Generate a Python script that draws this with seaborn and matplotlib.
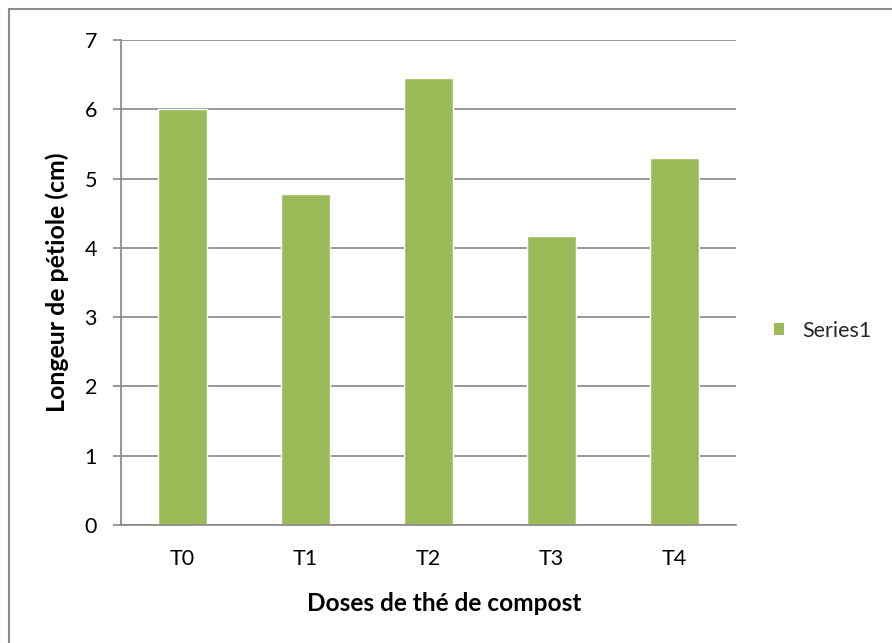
import matplotlib
matplotlib.use("Agg")
import matplotlib.pyplot as plt
import seaborn as sns
import pandas as pd
from matplotlib.patches import Rectangle, Patch

categories = ["T0", "T1", "T2", "T3", "T4"]
values = [6.0, 4.78, 6.45, 4.17, 5.3]
series_name = "Series1"
yticks = [0, 1, 2, 3, 4, 5, 6, 7]
x_title = "Doses de thé de compost"
y_title = "Longeur de pétiole (cm)"

sns.set_theme(style="white")
plt.rcParams['font.family'] = ['Lato', 'DejaVu Sans']

W, H = 892, 643
df = pd.DataFrame({"cat": categories, "val": values})

fig = plt.figure(figsize=(W / 100, H / 100), dpi=100)
ax = fig.add_axes([121 / W, 1 - 525 / H, (736 - 121) / W, (525 - 40) / H])
green = "#9BBB59"
grid = "#8A8A8A"
sns.barplot(data=df, x="cat", y="val", color=green, width=0.4, ax=ax, saturation=1)

tick_fs = 15.5
ax.set_ylim(0, 7)
ax.set_xlim(-0.5, 4.5)
ax.set_yticks(yticks)
ax.set_yticklabels([str(t) for t in yticks], fontsize=tick_fs, color="black")
ax.set_xticks(range(len(categories)))
ax.set_xticklabels(categories, fontsize=tick_fs, color="black")
ax.tick_params(axis='x', pad=17, length=0)
ax.tick_params(axis='y', length=5.8, width=1.25, color=grid, direction='out', left=True, pad=11.5)
ax.yaxis.grid(True, color=grid, linewidth=1.25)
ax.set_axisbelow(True)
for s in ["top", "right"]:
    ax.spines[s].set_visible(False)
for s in ["left", "bottom"]:
    ax.spines[s].set_color(grid)
    ax.spines[s].set_linewidth(1.25)
ax.set_xlabel("")
ax.set_ylabel("")

xt = fig.text(444 / W, 1 - 611 / H, x_title, ha='center', va='baseline',
              fontsize=16, fontweight='bold', color='black')
yt = fig.text(57 / W, 1 - 282 / H, y_title, ha='center', va='center', rotation=90,
              fontsize=16, fontweight='bold', color='black')

# scale axis titles to the reference's measured lengths
fig.canvas.draw()
r = fig.canvas.get_renderer()
bx = xt.get_window_extent(r)
xt.set_fontsize(xt.get_fontsize() * 275 / bx.width)
by = yt.get_window_extent(r)
yt.set_fontsize(yt.get_fontsize() * 261 / by.height)

fs_px = tick_fs * 100 / 72
handles = [Patch(facecolor=green, edgecolor='none', label=series_name)]
fig.legend(handles=handles, loc='center left', bbox_to_anchor=(774 / W, 1 - 331 / H),
           frameon=False, fontsize=tick_fs, handlelength=10 / fs_px, handleheight=10 / fs_px,
           handletextpad=18 / fs_px, borderpad=0, borderaxespad=0)

fig.patches.append(Rectangle((9 / W, -0.05), 1.2, 1 - 9 / H + 0.05, transform=fig.transFigure,
                             fill=False, edgecolor=grid, linewidth=1.5))

fig.savefig("out.png", dpi=100)
